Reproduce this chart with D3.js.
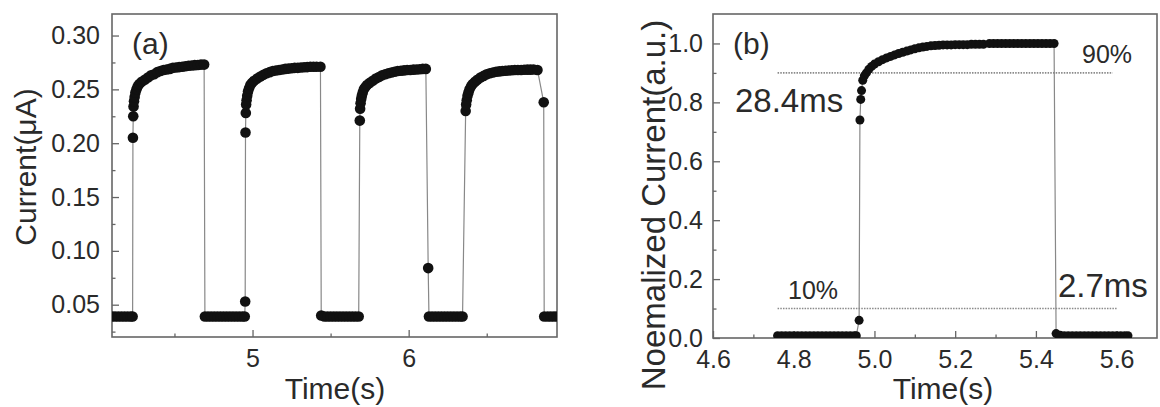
<!DOCTYPE html>
<html>
<head>
  <style>
    body { margin: 0; background: #fff; font-family: "Liberation Sans", Arial, sans-serif; }
    .tick text { fill: #2a2a2a; font-size: 25px; }
    .tick line { stroke: #666; stroke-width: 1.3px; }
    .frame { fill: none; stroke: #666; stroke-width: 1.6px; }
    .trace { fill: none; stroke: #888; stroke-width: 1.2px; }
    .dot { fill: #111; }
    .label { fill: #2a2a2a; }
    .guide { stroke: #8a8a8a; stroke-width: 1.6px; stroke-dasharray: 1.5,1.2; }
  </style>
  <script src="https://d3js.org/d3.v7.min.js"></script>
</head>
<body>
<div class="chart"></div>
<script>
// panel (a): current vs time
const timeA = [
  4.10, 4.12, 4.14, 4.16, 4.18, 4.20, 4.22, 4.232,
  4.234, 4.236, 4.238, 4.241, 4.245, 4.25, 4.257, 4.265, 4.275, 4.29, 4.31, 4.33, 4.35, 4.37, 4.39,
  4.41, 4.43, 4.45, 4.47, 4.49, 4.51, 4.53, 4.55, 4.57, 4.59, 4.61, 4.63, 4.65, 4.67, 4.69,
  4.695, 4.715, 4.735, 4.755, 4.775, 4.795, 4.815, 4.835, 4.855, 4.875, 4.895, 4.915, 4.935, 4.95,
  4.953, 4.955, 4.957, 4.959, 4.962, 4.966, 4.971, 4.978, 4.986, 4.996, 5.01, 5.03, 5.05, 5.07,
  5.09, 5.11, 5.13, 5.15, 5.17, 5.19, 5.21, 5.23, 5.25, 5.27, 5.29, 5.31, 5.33, 5.35, 5.37, 5.39,
  5.41, 5.435,
  5.44, 5.46, 5.48, 5.50, 5.52, 5.54, 5.56, 5.58, 5.60, 5.62, 5.64, 5.66, 5.68,
  5.687, 5.689, 5.692, 5.696, 5.70, 5.706, 5.713, 5.722, 5.733, 5.75, 5.77, 5.79, 5.81, 5.83, 5.85,
  5.87, 5.89, 5.91, 5.93, 5.95, 5.97, 5.99, 6.01, 6.03, 6.05, 6.07, 6.09, 6.11,
  6.125, 6.13, 6.15, 6.17, 6.19, 6.21, 6.23, 6.25, 6.27, 6.29, 6.31, 6.33, 6.345,
  6.365, 6.368, 6.372, 6.377, 6.383, 6.39, 6.40, 6.41, 6.425, 6.44, 6.46, 6.48, 6.50, 6.52, 6.54,
  6.56, 6.58, 6.60, 6.62, 6.64, 6.66, 6.68, 6.70, 6.72, 6.74, 6.76, 6.78, 6.80, 6.825,
  6.865, 6.868, 6.89, 6.91, 6.93, 6.95
];
const currentA = [
  0.039, 0.039, 0.039, 0.039, 0.039, 0.039, 0.039, 0.039,
  0.205, 0.225, 0.234, 0.239, 0.243, 0.247, 0.250, 0.253, 0.255, 0.257, 0.259, 0.261, 0.263, 0.264, 0.266,
  0.267, 0.268, 0.2685, 0.269, 0.270, 0.2703, 0.2707, 0.271, 0.2715, 0.272, 0.2722, 0.2725, 0.2727, 0.273, 0.273,
  0.039, 0.039, 0.039, 0.039, 0.039, 0.039, 0.039, 0.039, 0.039, 0.039, 0.039, 0.039, 0.039, 0.039,
  0.053, 0.210, 0.228, 0.236, 0.240, 0.244, 0.248, 0.251, 0.254, 0.256, 0.258, 0.260, 0.262, 0.2635,
  0.265, 0.266, 0.267, 0.2675, 0.268, 0.2685, 0.269, 0.2693, 0.2696, 0.270, 0.270, 0.2703, 0.2705, 0.2707, 0.271, 0.271,
  0.271, 0.271,
  0.040, 0.039, 0.039, 0.039, 0.039, 0.039, 0.039, 0.039, 0.039, 0.039, 0.039, 0.039, 0.039,
  0.221, 0.232, 0.237, 0.241, 0.244, 0.247, 0.250, 0.252, 0.254, 0.256, 0.258, 0.260, 0.2615, 0.263, 0.264,
  0.265, 0.2657, 0.2663, 0.267, 0.2673, 0.2676, 0.268, 0.268, 0.2683, 0.2685, 0.2687, 0.269, 0.269,
  0.084, 0.039, 0.039, 0.039, 0.039, 0.039, 0.039, 0.039, 0.039, 0.039, 0.039, 0.039, 0.039,
  0.230, 0.236, 0.240, 0.244, 0.247, 0.250, 0.253, 0.255, 0.257, 0.259, 0.261, 0.2625, 0.264, 0.265, 0.2657,
  0.2663, 0.2667, 0.267, 0.2673, 0.2675, 0.2677, 0.268, 0.268, 0.268, 0.2682, 0.2683, 0.2683, 0.2685, 0.268,
  0.238, 0.039, 0.039, 0.039, 0.039, 0.039
];
const yTicksA = [0.05, 0.10, 0.15, 0.20, 0.25, 0.30];
const xTicksA = [5, 6];

// panel (b): normalized single pulse
const timeB = [
  4.76, 4.77, 4.78, 4.79, 4.80, 4.81, 4.82, 4.83, 4.84, 4.85, 4.86, 4.87, 4.88, 4.89, 4.90,
  4.91, 4.92, 4.93, 4.94, 4.95, 4.955,
  4.962, 4.964, 4.966, 4.968, 4.971, 4.975, 4.98, 4.986, 4.993, 5.00, 5.01, 5.02, 5.03, 5.04,
  5.05, 5.06, 5.07, 5.08, 5.09, 5.10, 5.11, 5.12, 5.13, 5.14, 5.15, 5.16, 5.17, 5.18, 5.19,
  5.20, 5.21, 5.22, 5.23, 5.24, 5.25, 5.26, 5.27,
  5.285, 5.295, 5.305, 5.315, 5.325, 5.335, 5.345, 5.355, 5.365, 5.375, 5.385, 5.395, 5.405,
  5.415, 5.425, 5.435, 5.445,
  5.45, 5.46, 5.47, 5.48, 5.49, 5.50, 5.51, 5.52, 5.53, 5.54, 5.55, 5.56, 5.57, 5.58, 5.59,
  5.60, 5.61, 5.62, 5.628
];
const normB = [
  0.008, 0.008, 0.008, 0.008, 0.008, 0.008, 0.008, 0.008, 0.008, 0.008, 0.008, 0.008, 0.008, 0.008, 0.008,
  0.008, 0.008, 0.008, 0.008, 0.008, 0.008,
  0.06, 0.74, 0.81, 0.84, 0.875, 0.89, 0.90, 0.912, 0.922, 0.93, 0.938, 0.945, 0.951, 0.956,
  0.961, 0.966, 0.970, 0.974, 0.978, 0.982, 0.985, 0.988, 0.990, 0.992, 0.993, 0.994, 0.995, 0.995, 0.995,
  0.996, 0.996, 0.996, 0.996, 0.997, 0.997, 0.997, 0.997,
  1.0, 1.0, 1.0, 1.0, 1.0, 1.0, 1.0, 1.0, 1.0, 1.0, 1.0, 1.0, 1.0,
  1.0, 1.0, 1.0, 1.0,
  0.015, 0.009, 0.008, 0.008, 0.008, 0.008, 0.008, 0.008, 0.008, 0.008, 0.008, 0.008, 0.008, 0.008, 0.008,
  0.008, 0.008, 0.008, 0.008
];
const yTicksB = [0.0, 0.2, 0.4, 0.6, 0.8, 1.0];
const xTicksB = [4.6, 4.8, 5.0, 5.2, 5.4, 5.6];
const guideLevels = [0.9, 0.1];
const guideStart = [4.76, 4.76];
const guideEnd = [5.59, 5.60];

const width = 1160, height = 407;
const svg = d3.select('.chart').append('svg')
  .attr('width', width)
  .attr('height', height);

function drawPanel(opts){
  const x = d3.scaleLinear().domain(opts.xDomain).range([opts.left, opts.right]);
  const y = d3.scaleLinear().domain(opts.yDomain).range([opts.bottom, opts.top]);
  const g = svg.append('g');

  g.append('clipPath').attr('id', opts.id + '-clip')
    .append('rect')
    .attr('x', opts.left).attr('y', opts.top)
    .attr('width', opts.right - opts.left).attr('height', opts.bottom - opts.top);

  // minor ticks first, then major ticks with labels
  g.append('g')
    .attr('transform', `translate(0,${opts.bottom})`)
    .call(d3.axisBottom(x).tickValues(opts.xMinor).tickSize(-3.5).tickFormat(''))
    .call(a => a.select('.domain').remove());
  g.append('g')
    .attr('transform', `translate(${opts.left},0)`)
    .call(d3.axisLeft(y).tickValues(opts.yMinor).tickSize(-3.5).tickFormat(''))
    .call(a => a.select('.domain').remove());

  g.append('g')
    .attr('transform', `translate(0,${opts.bottom})`)
    .call(d3.axisBottom(x).tickValues(opts.xTicks).tickSize(-7).tickPadding(12).tickFormat(opts.xFormat))
    .call(a => a.select('.domain').remove());
  g.append('g')
    .attr('transform', `translate(${opts.left},0)`)
    .call(d3.axisLeft(y).tickValues(opts.yTicks).tickSize(-7).tickPadding(opts.yPad).tickFormat(opts.yFormat))
    .call(a => a.select('.domain').remove());

  g.append('rect').attr('class', 'frame')
    .attr('x', opts.left).attr('y', opts.top)
    .attr('width', opts.right - opts.left).attr('height', opts.bottom - opts.top);

  const plot = g.append('g').attr('clip-path', `url(#${opts.id}-clip)`);
  const pts = opts.xs.map((t, i) => [t, opts.ys[i]]);

  if (opts.guides) opts.guides(plot, x, y);

  plot.append('path').attr('class', 'trace')
    .attr('d', d3.line().x(d => x(d[0])).y(d => y(d[1]))(pts));

  plot.selectAll('circle').data(pts).enter()
    .append('circle').attr('class', 'dot')
    .attr('cx', d => x(d[0])).attr('cy', d => y(d[1]))
    .attr('r', opts.r);

  return {x, y, g};
}

const A = drawPanel({
  id: 'a', left: 112, right: 557, top: 14, bottom: 337,
  xDomain: [4.1, 6.95], yDomain: [0.02, 0.32],
  xTicks: xTicksA, xMinor: [4.5, 5.5, 6.5], xFormat: d3.format('d'),
  yTicks: yTicksA, yMinor: [0.025, 0.075, 0.125, 0.175, 0.225, 0.275], yFormat: d3.format('.2f'), yPad: 12,
  xs: timeA, ys: currentA, r: 5.3
});

const B = drawPanel({
  id: 'b', left: 713, right: 1157, top: 14, bottom: 338,
  xDomain: [4.6, 5.7], yDomain: [0, 1.1],
  xTicks: xTicksB, xMinor: [4.7, 4.9, 5.1, 5.3, 5.5], xFormat: d3.format('.1f'),
  yTicks: yTicksB, yMinor: [0.1, 0.3, 0.5, 0.7, 0.9], yFormat: d3.format('.1f'), yPad: 10,
  xs: timeB, ys: normB, r: 4.5,
  guides: (plot, x, y) => {
    plot.selectAll('line.guide').data(guideLevels).enter()
      .append('line').attr('class', 'guide')
      .attr('x1', (d, i) => x(guideStart[i])).attr('x2', (d, i) => x(guideEnd[i]))
      .attr('y1', d => y(d)).attr('y2', d => y(d));
  }
});

// axis titles
svg.append('text').attr('class', 'label')
  .attr('x', 335).attr('y', 399).attr('text-anchor', 'middle')
  .style('font-size', '30px').text('Time(s)');
svg.append('text').attr('class', 'label')
  .attr('x', 943).attr('y', 399).attr('text-anchor', 'middle')
  .style('font-size', '30px').text('Time(s)');
svg.append('text').attr('class', 'label')
  .attr('transform', 'translate(36,167) rotate(-90)').attr('text-anchor', 'middle')
  .style('font-size', '30px').text('Current(\u03bcA)');
svg.append('text').attr('class', 'label')
  .attr('transform', 'translate(665,205) rotate(-90)').attr('text-anchor', 'middle')
  .style('font-size', '33px').text('Noemalized Current(a.u.)');

// panel letters and annotations
const notes = [
  {t: '(a)', x: 132, y: 54, s: 30},
  {t: '(b)', x: 733, y: 54, s: 30},
  {t: '28.4ms', x: 735, y: 112, s: 33},
  {t: '2.7ms', x: 1058, y: 297, s: 33},
  {t: '90%', x: 1082, y: 63, s: 25},
  {t: '10%', x: 788, y: 299, s: 25}
];
svg.selectAll('text.note').data(notes).enter()
  .append('text').attr('class', 'note label')
  .attr('x', d => d.x).attr('y', d => d.y)
  .style('font-size', d => d.s + 'px')
  .text(d => d.t);
</script>
</body>
</html>
